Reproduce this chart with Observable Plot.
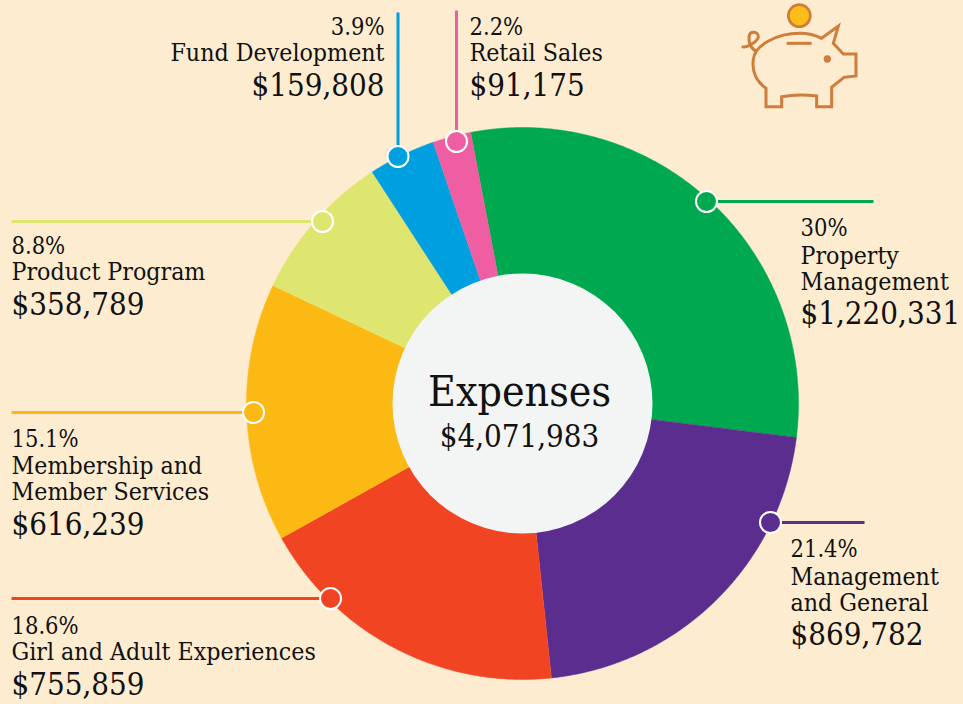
<!DOCTYPE html>
<html>
<head>
<meta charset="utf-8">
<style>
html,body{margin:0;padding:0;background:#feecd0;overflow:hidden}
svg{display:block}
</style>
<script src="https://cdn.jsdelivr.net/npm/d3@7"></script>
<script src="https://cdn.jsdelivr.net/npm/@observablehq/plot@0.6"></script>
</head>
<body>
<script>
const names = ["Property Management","Management and General","Girl and Adult Experiences","Membership and Member Services","Product Program","Fund Development","Retail Sales"];
const values = [1220331,869782,755859,616239,358789,159808,91175];
const percents = ["30%","21.4%","18.6%","15.1%","8.8%","3.9%","2.2%"];
const colors = ["#00a94f","#5b2d8e","#f04423","#fdb913","#dfe670","#009fdf","#ef5da2"];
const nameLines = [["Property","Management"],["Management","and General"],["Girl and Adult Experiences"],["Membership and","Member Services"],["Product Program"],["Fund Development"],["Retail Sales"]];
const centerTitle = "Expenses";
const centerTotal = 4071983;

// layout (pixel space of the identity x/y scales)
const cx = 522, cy = 403, R = 276, r0 = 130, startDeg = -10.8;
const leaders = [
  {i:0,x1:706,y1:201,x2:873,y2:201},
  {i:1,x1:770,y1:522,x2:864,y2:522},
  {i:2,x1:330,y1:598,x2:11,y2:598},
  {i:3,x1:253,y1:412,x2:11,y2:412},
  {i:4,x1:322,y1:221,x2:11,y2:221},
  {i:5,x1:397.5,y1:156,x2:397.5,y2:12},
  {i:6,x1:456,y1:141,x2:456,y2:10}
];
const labelPos = [
  {x:800,a:"start",ys:[235.5,263.5,289.5,323]},
  {x:790,a:"start",ys:[556.5,584.5,610.5,644]},
  {x:11,a:"start",ys:[633.5,659.5,694]},
  {x:11,a:"start",ys:[446.5,473.5,499.5,534]},
  {x:11,a:"start",ys:[253.5,279.5,314]},
  {x:384,a:"end",ys:[34.5,60.5,95]},
  {x:469,a:"start",ys:[34.5,60.5,95]}
];

const fmt = d3.format("$,");
const pie = d3.pie().sort(null).startAngle(startDeg*Math.PI/180).endAngle((startDeg+360)*Math.PI/180)(values);
const wedgePoints = pie.flatMap((p,i)=>{
  const n = Math.ceil((p.endAngle-p.startAngle)/(Math.PI/180))*2;
  const pts = [{name:names[i],x:cx,y:cy}];
  for(let k=0;k<=n;k++){
    const a = p.startAngle+(p.endAngle-p.startAngle)*k/n;
    pts.push({name:names[i],x:cx+R*Math.sin(a),y:cy-R*Math.cos(a)});
  }
  return pts;
});

const pct = [], nameRows = [], money = [];
names.forEach((_,i)=>{
  const L = labelPos[i];
  pct.push({t:percents[i],x:L.x,y:L.ys[0],a:L.a});
  nameLines[i].forEach((t,k)=>nameRows.push({t,x:L.x,y:L.ys[k+1],a:L.a}));
  money.push({t:fmt(values[i]),x:L.x,y:L.ys[L.ys.length-1],a:L.a});
});

const font = "'DejaVu Serif Condensed','DejaVu Serif',serif";
const textMark = (rows,fontSize)=>["start","end"].map(a=>Plot.text(rows.filter(d=>d.a===a),{
  x:"x",y:"y",text:"t",textAnchor:a,lineAnchor:"bottom",fontSize,fontFamily:font,fill:"#111"}));

function piggy(index,scales,values,dim,context){
  const svgns = "http://www.w3.org/2000/svg";
  const root = context.document.createElementNS(svgns,"g");
  root.setAttribute("transform","translate(720,0) scale(0.3333)");
  root.innerHTML = `
  <g fill="none" stroke="#cf7d3c" stroke-width="9">
   <path d="M100 178C105 135 170 100 240 100C265 100 285 105 305 115L355 78L340 130L370 162L408 162L408 228L372 232L335 262L335 320L290 320L290 288C255 284 220 284 185 290L185 320L138 320L138 265C110 245 95 215 100 178Z"/>
   <path d="M65 140C85 145 115 120 115 110C115 95 90 90 87 110C85 130 95 150 112 155"/>
   <path d="M200 130L275 130"/>
  </g>
  <circle cx="322" cy="177" r="11" fill="#cf7d3c"/>
  <circle cx="238" cy="47" r="33" fill="#fdbe17" stroke="#cf7d3c" stroke-width="8"/>`;
  return root;
}

const chart = Plot.plot({
  width:963,height:704,margin:0,
  style:{background:"#feecd0"},
  x:{domain:[0,963],axis:null},
  y:{domain:[704,0],axis:null},
  color:{domain:names,range:colors},
  marks:[
    Plot.line(wedgePoints,{x:"x",y:"y",z:"name",fill:"name",stroke:"name",strokeWidth:0.5,curve:"linear"}),
    Plot.dot([0],{x:()=>cx,y:()=>cy,r:r0,fill:"#f3f5f4",stroke:"none"}),
    Plot.link(leaders,{x1:"x1",y1:"y1",x2:"x2",y2:"y2",stroke:d=>names[d.i],strokeWidth:3}),
    Plot.dot(leaders,{x:"x1",y:"y1",r:10.5,fill:d=>names[d.i],stroke:"#fff",strokeWidth:2}),
    textMark(pct,23.5),
    textMark(nameRows,24.7),
    textMark(money,31),
    Plot.text([centerTitle],{x:()=>519,y:()=>405,text:d=>d,textAnchor:"middle",lineAnchor:"bottom",fontSize:42.5,fontFamily:font,fill:"#111"}),
    Plot.text([fmt(centerTotal)],{x:()=>519,y:()=>446,text:d=>d,textAnchor:"middle",lineAnchor:"bottom",fontSize:31,fontFamily:font,fill:"#111"}),
    piggy
  ]
});
document.body.appendChild(chart);
</script>
</body>
</html>
